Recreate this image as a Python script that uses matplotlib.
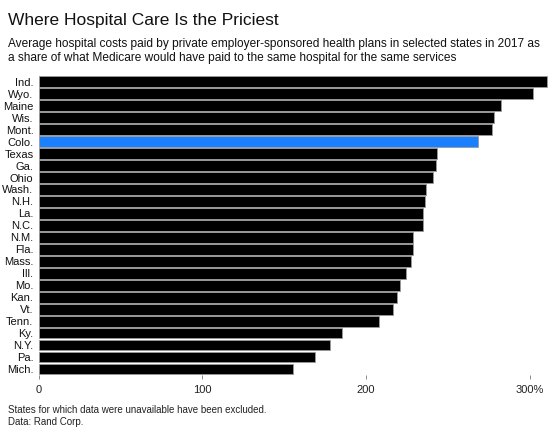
import matplotlib
matplotlib.use("Agg")
import matplotlib.pyplot as plt

plt.rcParams['font.family'] = ['Liberation Sans', 'DejaVu Sans']

states = ["Ind.", "Wyo.", "Maine", "Wis.", "Mont.", "Colo.", "Texas", "Ga.", "Ohio",
          "Wash.", "N.H.", "La.", "N.C.", "N.M.", "Fla.", "Mass.", "Ill.", "Mo.",
          "Kan.", "Vt.", "Tenn.", "Ky.", "N.Y.", "Pa.", "Mich."]
share = [310.7, 301.9, 282.7, 278.5, 277.2, 268.7, 243.6, 243.0, 240.7,
         236.4, 236.0, 234.8, 234.6, 228.5, 228.5, 227.7, 224.6, 220.6,
         218.9, 216.8, 207.7, 185.6, 177.9, 168.9, 155.6]
highlight = "Colo."
xticks = [0, 100, 200, 300]
xticklabels = ["0", "100", "200", "300%"]

fig = plt.figure(figsize=(5.6, 4.33), dpi=100)
ax = fig.add_axes([0.0696, 0.134, 0.911, 0.691])

colors = ["#1a80ff" if s == highlight else "#000000" for s in states]
ypos = list(range(len(states)))
ax.barh(ypos, share, height=0.9, color=colors, edgecolor="#9a9a9a", linewidth=0.6)
ax.set_ylim(len(states) - 0.5, -0.5)
ax.set_xlim(0, 312)

ax.set_yticks(ypos)
ax.set_yticklabels(states, fontsize=8, color="#111111")
ax.set_xticks(xticks)
ax.set_xticklabels(xticklabels, fontsize=8, color="#222222")
ax.tick_params(axis="y", length=0, pad=4)
ax.tick_params(axis="x", direction="out", length=3, width=0.6, color="#777777", pad=4)
for sp in ax.spines.values():
    sp.set_visible(False)

fig.text(0.014, 0.953, "Where Hospital Care Is the Priciest", fontsize=12.5, va="center", color="#111111")
fig.text(0.014, 0.899, "Average hospital costs paid by private employer-sponsored health plans in selected states in 2017 as",
         fontsize=8.6, va="center", color="#111111")
fig.text(0.014, 0.866, "a share of what Medicare would have paid to the same hospital for the same services",
         fontsize=8.6, va="center", color="#111111")
fig.text(0.014, 0.053, "States for which data were unavailable have been excluded.", fontsize=7, va="center", color="#222222")
fig.text(0.014, 0.026, "Data: Rand Corp.", fontsize=7, va="center", color="#222222")

fig.savefig("out.png", dpi=100)
